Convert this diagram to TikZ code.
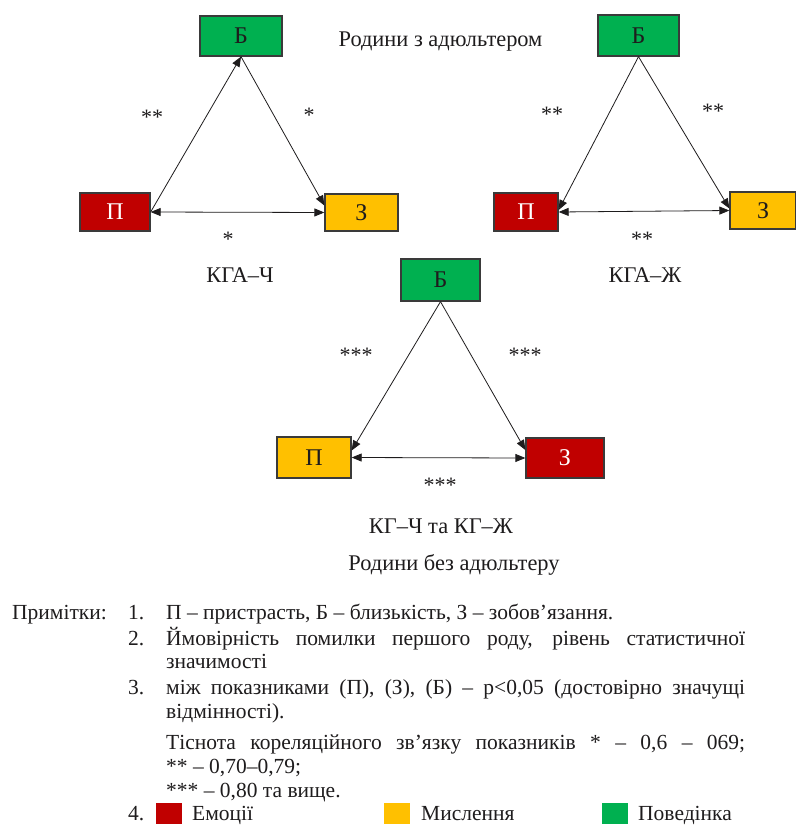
\documentclass[tikz,border=0pt]{standalone}
\usepackage{fontspec}
\setmainfont{Liberation Serif}[Ligatures=TeX]
\usetikzlibrary{arrows.meta}
\definecolor{cred}{HTML}{C00000}
\definecolor{cyel}{HTML}{FFC000}
\definecolor{cgrn}{HTML}{00B050}
\definecolor{ink}{HTML}{1E1C1D}
\definecolor{edge}{HTML}{3A3A3A}
\begin{document}
\begin{tikzpicture}[x=1pt,y=-1pt,
  every node/.style={text=ink, font=\rmfamily\fontsize{21}{24}\selectfont},
  cbox/.style={draw=edge, line width=1.3pt, inner sep=0pt, font=\rmfamily\fontsize{24}{26}\selectfont},
  redbox/.style={cbox, fill=cred, text=white},
  yelbox/.style={cbox, fill=cyel},
  grnbox/.style={cbox, fill=cgrn},
  arr/.style={draw=ink, line width=0.8pt, -{Triangle[length=10pt,width=8pt]}},
  darr/.style={draw=ink, line width=0.8pt, {Triangle[length=10pt,width=8pt]}-{Triangle[length=10pt,width=8pt]}},
  starlbl/.style={anchor=base, inner sep=0pt, font=\rmfamily\fontsize{22}{24}\selectfont},
  captext/.style={anchor=base, inner sep=0pt, font=\rmfamily\fontsize{22.4}{26}\selectfont},
  notetext/.style={anchor=base west, inner sep=0pt, font=\rmfamily\fontsize{21.5}{24}\selectfont},
  legsq/.style={fill=#1, draw=none, minimum width=26pt, minimum height=21pt, inner sep=0pt, anchor=north west}
]
\useasboundingbox (0,0) rectangle (795,826);
\fill[white] (0,0) rectangle (795,826);

% ---------- Triangle 1: KGA-Ch ----------
\node[grnbox, minimum width=82pt, minimum height=40pt] (B1) at (241,36) {Б};
\node[redbox, minimum width=70pt, minimum height=38pt] (P1) at (115,212) {П};
\node[yelbox, minimum width=73pt, minimum height=37pt] (Z1) at (361.5,212.5) {З};
\draw[arr] (P1.east) -- (B1.south);
\draw[arr] (B1.south) -- ([yshift=7pt]Z1.west);
\draw[darr] (P1.east) -- (Z1.west);
\node[starlbl] (s1a) at (152,125) {**};
\node[starlbl] (s1b) at (309,123) {*};
\node[starlbl] (s1c) at (228,246) {*};
\node[captext] (t1) at (240,282) {КГА–Ч};

% ---------- Title ----------
\node[captext] (title1) at (440.5,47) {Родини з адюльтером};

% ---------- Triangle 2: KGA-Zh ----------
\node[grnbox, minimum width=81pt, minimum height=41pt] (B2) at (638.5,35.5) {Б};
\node[redbox, minimum width=64pt, minimum height=38pt] (P2) at (526,212) {П};
\node[yelbox, minimum width=66pt, minimum height=37pt] (Z2) at (763,210.5) {З};
\draw[arr] (B2.south) -- ([yshift=2pt]P2.east);
\draw[arr] (B2.south) -- ([yshift=2pt]Z2.west);
\draw[darr] (P2.east) -- (Z2.west);
\node[starlbl] (s2a) at (552,122) {**};
\node[starlbl] (s2b) at (713,119) {**};
\node[starlbl] (s2c) at (642,246) {**};
\node[captext] (t2) at (645,282) {КГА–Ж};

% ---------- Triangle 3: KG ----------
\node[grnbox, minimum width=79pt, minimum height=42pt] (B3) at (440.5,280) {Б};
\node[yelbox, minimum width=74pt, minimum height=41pt] (P3) at (314,457.5) {П};
\node[redbox, minimum width=78pt, minimum height=40pt] (Z3) at (565,458) {З};
\draw[arr] (B3.south) -- ([yshift=7pt]P3.east);
\draw[arr] (B3.south) -- ([yshift=8pt]Z3.west);
\draw[darr] (P3.east) -- (Z3.west);
\node[starlbl] (s3a) at (356,362) {***};
\node[starlbl] (s3b) at (525,362) {***};
\node[starlbl] (s3c) at (440,492) {***};
\node[captext] (t3) at (441,533) {КГ–Ч та КГ–Ж};
\node[captext] (title2) at (454,570) {Родини без адюльтеру};

% ---------- Notes ----------
\node[notetext] (n0) at (12,619) {Примітки:};
\node[notetext] (n1) at (128,619) {1.};
\node[notetext] (n1t) at (166,619) {П – пристрасть, Б – близькість, З – зобов’язання.};
\node[notetext] (n2) at (128,645) {2.};
\node[notetext] (n2t) at (166,645) {\makebox[579pt][s]{Ймовірність помилки першого роду, рівень статистичної}};
\node[notetext] (n2u) at (166,668) {значимості};
\node[notetext] (n3) at (128,694) {3.};
\node[notetext] (n3t) at (166,694) {\makebox[579pt][s]{між показниками (П), (З), (Б) – p<0,05 (достовірно значущі}};
\node[notetext] (n3u) at (166,718) {відмінності).};
\node[notetext] (n3v) at (166,749) {\makebox[579pt][s]{Тіснота кореляційного зв’язку показників * – 0,6 – 069;}};
\node[notetext] (n3w) at (166,773) {** – 0,70–0,79;};
\node[notetext] (n3x) at (166,797) {*** – 0,80 та вище.};
\node[notetext] (n4) at (128,820) {4.};
\node[legsq=cred] (l1) at (156,803) {};
\node[notetext] (l1t) at (192,820) {Емоції};
\node[legsq=cyel] (l2) at (384,803) {};
\node[notetext] (l2t) at (421,820) {Мислення};
\node[legsq=cgrn] (l3) at (602,803) {};
\node[notetext] (l3t) at (638,820) {Поведінка};
\end{tikzpicture}
\end{document}
